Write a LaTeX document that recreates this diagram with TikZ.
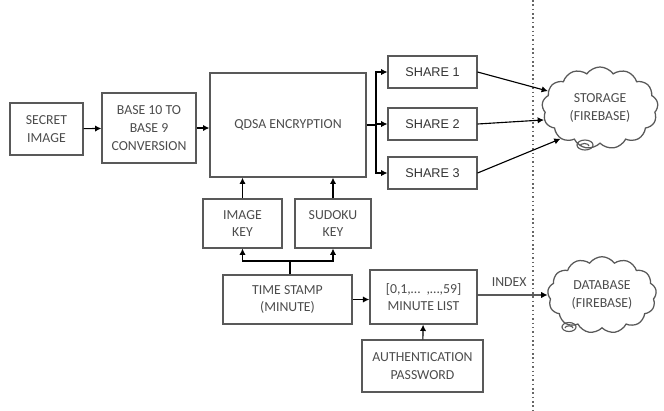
\documentclass[tikz,border=0pt]{standalone}
\usepackage{fontspec}
\setmainfont{Carlito}
\newfontfamily\sharefont{Liberation Sans}
\usetikzlibrary{arrows.meta,shapes.symbols}

\tikzset{
	blockbox/.style={draw=black!65,line width=0.9pt,text=black!70,align=center,font=\fontsize{9.8}{12.5}\selectfont},
	sharebox/.style={blockbox,minimum width=2.22cm,minimum height=0.8cm,text=black!80,font=\sharefont\fontsize{9}{11}\selectfont},
	cloudbox/.style={cloud,cloud puffs=13,cloud puff arc=110,aspect=1.5,draw=black!65,line width=0.9pt,text=black!70,align=center,font=\fontsize{9.8}{12.5}\selectfont},
	link/.style={line width=0.8pt,-{Latex[length=4.5pt,width=4.5pt]}}
}

\begin{document}
\begin{tikzpicture}[x=0.025cm,y=-0.025cm]
	\useasboundingbox (0,0) rectangle (664,410);
	% blocks
	\node[blockbox,minimum width=1.82cm,minimum height=1.3cm] (secret) at (46.5,129) {SECRET\\IMAGE};
	\node[blockbox,minimum width=2.35cm,minimum height=1.75cm] (base) at (149,128) {BASE 10 TO\\BASE 9\\CONVERSION};
	\node[blockbox,minimum width=3.9cm,minimum height=2.6cm] (qdsa) at (288,125) {QDSA ENCRYPTION};
	\node[sharebox] (share1) at (432.5,72) {SHARE 1};
	\node[sharebox] (share2) at (432.5,124) {SHARE 2};
	\node[sharebox] (share3) at (432.5,173) {SHARE 3};
	\node[blockbox,minimum width=1.98cm,minimum height=1.22cm] (imgkey) at (242.5,223.5) {IMAGE\\KEY};
	\node[blockbox,minimum width=1.9cm,minimum height=1.22cm] (sudokey) at (333,223.5) {SUDOKU\\KEY};
	\node[blockbox,minimum width=3.22cm,minimum height=1.22cm] (stamp) at (287.5,299.5) {TIME STAMP\\(MINUTE)};
	\node[blockbox,minimum width=2.68cm,minimum height=1.35cm] (minlist) at (423.5,297) {[0,1,\dots\ \ ,\dots,59]\\MINUTE LIST};
	\node[blockbox,minimum width=3.02cm,minimum height=1.3cm] (auth) at (422.5,366) {AUTHENTICATION\\PASSWORD};
	% clouds
	\node[cloudbox,minimum width=2.9cm,minimum height=2.05cm] (storage) at (600,108) {STORAGE\\(FIREBASE)};
	\node[cloudbox,minimum width=2.72cm,minimum height=1.85cm] (database) at (602,295) {DATABASE\\(FIREBASE)};
	\draw[black!65,line width=0.8pt] (585,145) ellipse (8 and 5) (580,146) arc (180:360:4.5 and 2.5);
	\draw[black!65,line width=0.8pt] (569,327) ellipse (7 and 4.5) (565,328) arc (180:360:4 and 2.2);
	% boundary
	\draw[black!60,line width=1.1pt,dotted] (533,0) -- (533,410);
	% arrows
	\draw[link] (secret) -- (base);
	\draw[link] (base) -- (base -| qdsa.west);
	\coordinate (fork) at (376,125);
	\draw[line width=0.8pt] (qdsa.east |- fork) -- (fork);
	\draw[link] (fork) |- (share1.west);
	\draw[link] (fork) |- (share2.west);
	\draw[link] (fork) |- (share3.west);
	\draw[link] (share1.east) -- (storage.162);
	\draw[link] (share2.east) -- (storage.192);
	\draw[link] (share3.east) -- (storage.218);
	\draw[link] (imgkey) -- (imgkey |- qdsa.south);
	\draw[link] (sudokey) -- (sudokey |- qdsa.south);
	\coordinate (tsfork) at (290,261);
	\draw[line width=0.8pt] (stamp.north -| tsfork) -- (tsfork);
	\draw[link] (tsfork) -| (imgkey.south);
	\draw[link] (tsfork) -| (sudokey.south);
	\draw[link] (stamp) -- (stamp -| minlist.west);
	\draw[link] (auth) -- (minlist);
	\draw[link] (minlist.east |- database) -- node[pos=0.45,above=2pt,text=black!70,font=\fontsize{9.8}{12.5}\selectfont] (index) {INDEX} (database.west);
\end{tikzpicture}
\end{document}
